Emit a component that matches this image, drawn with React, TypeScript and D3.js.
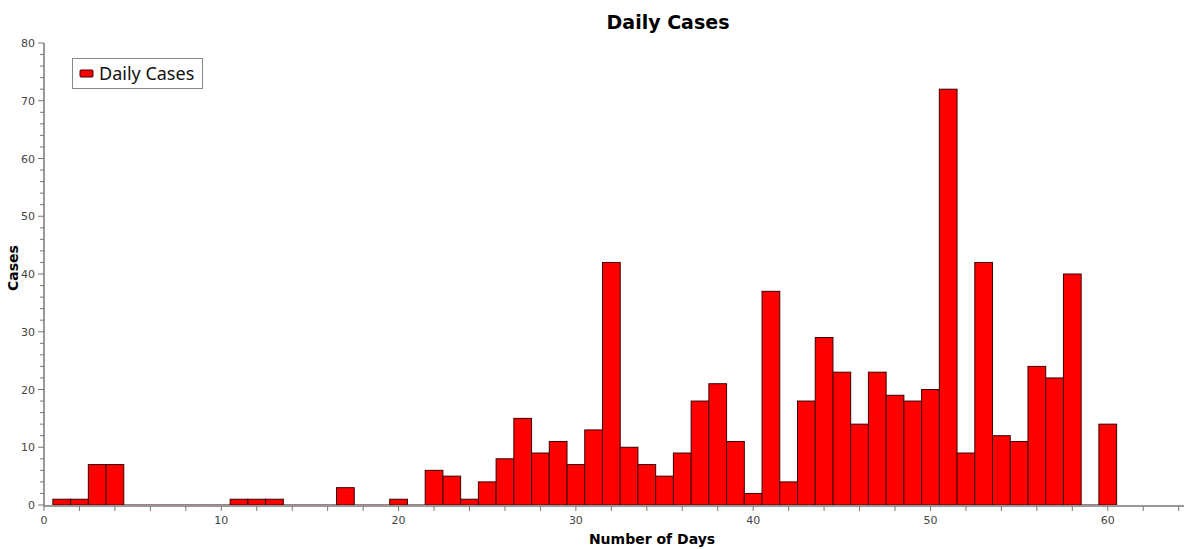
import React from "react";
import * as d3 from "d3";

const days: number[] = Array.from({ length: 60 }, (_, i) => i + 1);
const cases: number[] = [
  1, 1, 7, 7, 0, 0, 0, 0, 0, 0,
  1, 1, 1, 0, 0, 0, 3, 0, 0, 1,
  0, 6, 5, 1, 4, 8, 15, 9, 11, 7,
  13, 42, 10, 7, 5, 9, 18, 21, 11, 2,
  37, 4, 18, 29, 23, 14, 23, 19, 18, 20,
  72, 9, 42, 12, 11, 24, 22, 40, 0, 14,
];
const xTicks: number[] = [0, 10, 20, 30, 40, 50, 60];
const yTicks: number[] = [0, 10, 20, 30, 40, 50, 60, 70, 80];
const title = "Daily Cases";
const seriesName = "Daily Cases";
const xLabel = "Number of Days";
const yLabel = "Cases";

const W = 1190;
const H = 549;
const font = "Tahoma, 'DejaVu Sans', Verdana, sans-serif";

export default function App() {
  const x = d3.scaleLinear().domain([0, 64.3]).range([44, 1184]);
  const y = d3.scaleLinear().domain([0, 80]).range([505, 43]);
  const minorX = d3.range(0, 65, 2);
  const minorY = d3.range(0, 81, 2);
  const axisColor = "#999";
  return (
    <svg width={W} height={H} style={{ position: "absolute", left: 0, top: 0, background: "#fff" }}>
      <text x={668} y={29} textAnchor="middle" fontFamily="'DejaVu Sans', sans-serif" fontWeight="bold" fontSize={19}>{title}</text>
      {days.map((d, i) => {
        const x0 = x(d - 0.5);
        const x1 = x(d + 0.5);
        const yt = y(cases[i]);
        if (cases[i] === 0) {
          return <line key={d} x1={x0} x2={x1} y1={y(0)} y2={y(0)} stroke="#3a0000" strokeWidth={1} />;
        }
        return (
          <rect key={d} x={x0} y={yt} width={x1 - x0} height={Math.max(0, y(0) - yt)} fill="#ff0000" stroke="#3a0000" strokeWidth={1} />
        );
      })}
      {/* axes */}
      <line x1={44} x2={44} y1={y(80)} y2={y(0) + 1} stroke={axisColor} strokeWidth={2} />
      <line x1={43} x2={1184} y1={y(0) + 1} y2={y(0) + 1} stroke={axisColor} strokeWidth={2} />
      {minorY.map((v) => (
        <line key={"my" + v} x1={v % 10 === 0 ? 38 : 40} x2={44} y1={y(v)} y2={y(v)} stroke="#777" strokeWidth={1} />
      ))}
      {minorX.map((v) => (
        <line key={"mx" + v} x1={x(v)} x2={x(v)} y1={y(0) + 1} y2={y(0) + 6} stroke="#777" strokeWidth={1} />
      ))}
      {yTicks.map((v) => (
        <text key={"yt" + v} x={35} y={y(v) + 4} textAnchor="end" fontFamily={font} fontSize={11} fill="#444">{v}</text>
      ))}
      {xTicks.map((v) => (
        <text key={"xt" + v} x={x(v)} y={524} textAnchor="middle" fontFamily={font} fontSize={11} fill="#444">{v}</text>
      ))}
      <text x={652} y={544} textAnchor="middle" fontFamily="'DejaVu Sans', sans-serif" fontWeight="bold" fontSize={14}>{xLabel}</text>
      <text transform={`translate(18,268) rotate(-90)`} textAnchor="middle" fontFamily="'DejaVu Sans', sans-serif" fontWeight="bold" fontSize={14}>{yLabel}</text>
      {/* legend */}
      <rect x={72.5} y={58.5} width={130} height={30} fill="#fff" stroke="#888" strokeWidth={1} />
      <rect x={80} y={70} width={13} height={7} fill="#ff0000" stroke="#3a0000" strokeWidth={1} rx={1} />
      <text x={99} y={80} fontFamily="'Noto Sans', sans-serif" fontSize={18} fill="#111">{seriesName}</text>
    </svg>
  );
}
